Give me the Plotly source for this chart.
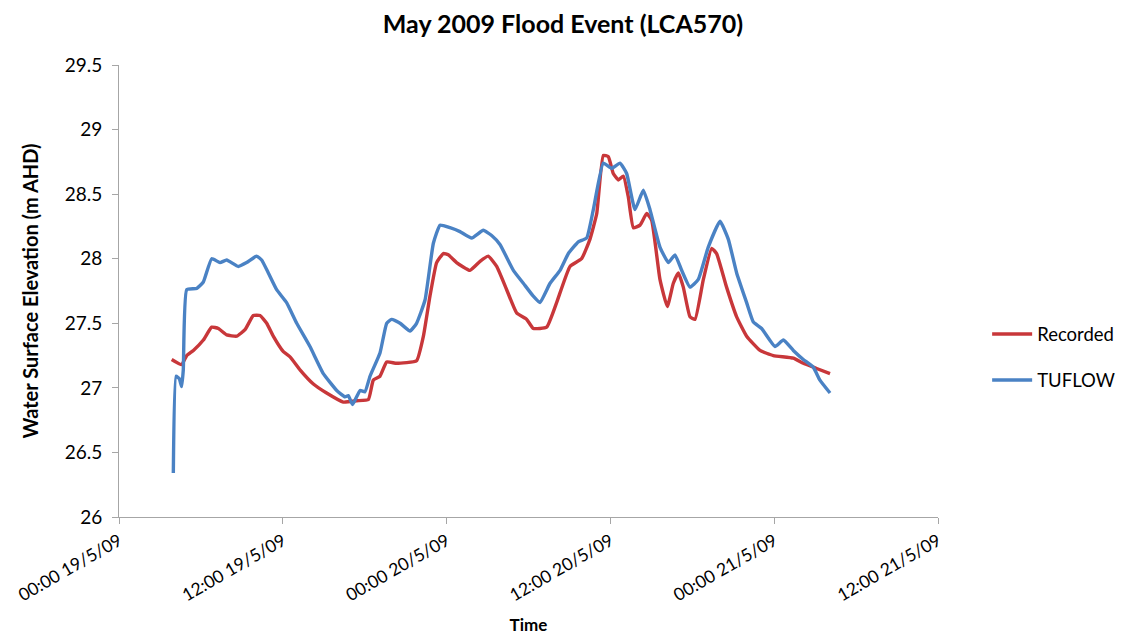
import pandas as pd
import plotly.graph_objects as go

start = pd.Timestamp("2009-05-19 00:00")

# hours after 00:00 19/5/09
rec_hours = [3.86, 4.59, 4.96, 5.45, 6.18, 6.79, 7.28, 7.89, 8.62, 9.23, 9.84, 10.33, 10.82, 11.3,
             12.04, 12.53, 13.26, 14.24, 15.21, 16.43, 17.41, 18.27, 18.63, 19.12, 19.61, 20.34,
             21.8, 22.3, 22.78, 23.27, 23.76, 24.12, 24.73, 25.71, 26.45, 27.05, 27.67, 28.4,
             29.13, 29.87, 30.35, 31.33, 32.06, 33.04, 33.89, 34.5, 35.0, 35.48, 35.85, 36.21,
             36.58, 36.95, 37.31, 37.68, 38.17, 38.66, 39.02, 39.63, 40.17, 40.61, 40.98, 41.34,
             41.83, 42.2, 42.81, 43.42, 43.78, 44.51, 45.25, 45.98, 46.96, 47.94, 49.4, 50.13,
             51.11, 52.09]
rec_values = [27.22, 27.18, 27.25, 27.29, 27.37, 27.47, 27.46, 27.41, 27.40, 27.45, 27.56, 27.56,
              27.50, 27.40, 27.28, 27.24, 27.14, 27.03, 26.96, 26.89, 26.90, 26.91, 27.06, 27.09,
              27.20, 27.19, 27.21, 27.40, 27.71, 27.97, 28.04, 28.03, 27.97, 27.91, 27.98, 28.02,
              27.94, 27.76, 27.58, 27.53, 27.46, 27.47, 27.66, 27.94, 28.0, 28.15, 28.35, 28.80,
              28.79, 28.66, 28.61, 28.64, 28.48, 28.24, 28.26, 28.35, 28.30, 27.84, 27.63, 27.81,
              27.89, 27.78, 27.55, 27.53, 27.84, 28.08, 28.04, 27.78, 27.55, 27.40, 27.29, 27.25,
              27.23, 27.19, 27.15, 27.11]

tuf_hours = [3.98, 4.18, 4.42, 4.59, 4.71, 4.96, 5.69, 6.18, 6.79, 7.4, 7.89, 8.74, 9.35, 10.08,
             10.45, 10.94, 11.55, 12.28, 13.02, 13.99, 14.97, 15.95, 16.56, 16.8, 17.11, 17.66,
             18.02, 18.39, 19.12, 19.61, 19.97, 20.59, 21.32, 21.8, 22.42, 23.03, 23.52, 24.25,
             24.98, 25.84, 26.69, 27.3, 27.91, 28.89, 29.62, 30.35, 30.84, 31.58, 32.31, 32.92,
             33.65, 34.26, 34.75, 35.48, 36.09, 36.7, 37.19, 37.8, 38.41, 38.9, 39.63, 40.25,
             40.73, 41.22, 41.83, 42.44, 43.17, 44.03, 44.64, 45.25, 45.98, 46.47, 47.08, 48.06,
             48.67, 49.4, 50.13, 50.86, 51.35, 52.09]
tuf_values = [26.34, 27.09, 27.07, 27.01, 27.14, 27.76, 27.77, 27.82, 28.0, 27.97, 27.99, 27.94,
              27.97, 28.02, 27.99, 27.89, 27.76, 27.66, 27.50, 27.32, 27.11, 26.98, 26.93, 26.94,
              26.87, 26.98, 26.97, 27.09, 27.27, 27.50, 27.53, 27.50, 27.44, 27.50, 27.68, 28.12,
              28.26, 28.24, 28.21, 28.16, 28.22, 28.18, 28.11, 27.91, 27.81, 27.71, 27.66, 27.81,
              27.91, 28.04, 28.13, 28.16, 28.38, 28.74, 28.70, 28.74, 28.66, 28.38, 28.53, 28.38,
              28.09, 27.97, 28.03, 27.91, 27.78, 27.84, 28.09, 28.29, 28.15, 27.89, 27.66, 27.51,
              27.46, 27.32, 27.37, 27.29, 27.22, 27.16, 27.06, 26.96]

tick_hours = [0, 12, 24, 36, 48, 60]
tick_labels = ["00:00 19/5/09", "12:00 19/5/09", "00:00 20/5/09",
               "12:00 20/5/09", "00:00 21/5/09", "12:00 21/5/09"]
y_ticks = [26, 26.5, 27, 27.5, 28, 28.5, 29, 29.5]
y_labels = ["26", "26.5", "27", "27.5", "28", "28.5", "29", "29.5"]


def to_time(hours):
    return [start + pd.Timedelta(hours=h) for h in hours]


FONT = "Lato, 'Open Sans', sans-serif"

fig = go.Figure()
fig.add_trace(go.Scatter(x=to_time(rec_hours), y=rec_values, mode="lines", name="Recorded",
                         legendgroup="a",
                         line=dict(color="#C8373A", width=3.4, shape="spline", smoothing=0.4)))
fig.add_trace(go.Scatter(x=to_time(tuf_hours), y=tuf_values, mode="lines", name="TUFLOW",
                         legendgroup="b",
                         line=dict(color="#4A82C4", width=3.4, shape="spline", smoothing=0.4)))

# the page body adds an 8px offset at the top-left, so margins are shifted by 8px
fig.update_layout(
    width=1128, height=627,
    margin=dict(l=111, r=198, t=57, b=118),
    paper_bgcolor="white", plot_bgcolor="white",
    font=dict(family=FONT, color="#000000", size=15),
    title=dict(text="<b>May 2009 Flood Event (LCA570)</b>", x=0.492, xanchor="center",
               y=0.9745, yanchor="middle", font=dict(size=25, family=FONT)),
    showlegend=True,
    legend=dict(x=1.06, y=0.353, xanchor="left", yanchor="middle",
                font=dict(size=18.5, family=FONT), tracegroupgap=19, itemwidth=40,
                bgcolor="rgba(0,0,0,0)"),
    xaxis=dict(
        range=[start, start + pd.Timedelta(hours=60)],
        tickvals=to_time(tick_hours), ticktext=tick_labels,
        tickangle=-30, tickfont=dict(size=17.5),
        showgrid=False, zeroline=False, automargin=False,
        showline=True, linecolor="#A6A6A6", linewidth=1,
        ticks="outside", ticklen=6, tickcolor="#A6A6A6",
        title=dict(text="<b>Time</b>", font=dict(size=17), standoff=21),
    ),
    yaxis=dict(
        range=[26, 29.5],
        tickvals=y_ticks, ticktext=y_labels, tickfont=dict(size=19),
        ticklabelstandoff=6,
        showgrid=False, zeroline=False, automargin=False,
        showline=True, linecolor="#A6A6A6", linewidth=1,
        ticks="outside", ticklen=6, tickcolor="#A6A6A6",
        title=dict(text="<b>Water Surface Elevation (m AHD)</b>", font=dict(size=20), standoff=20),
    ),
)

fig.write_html("out.html")
